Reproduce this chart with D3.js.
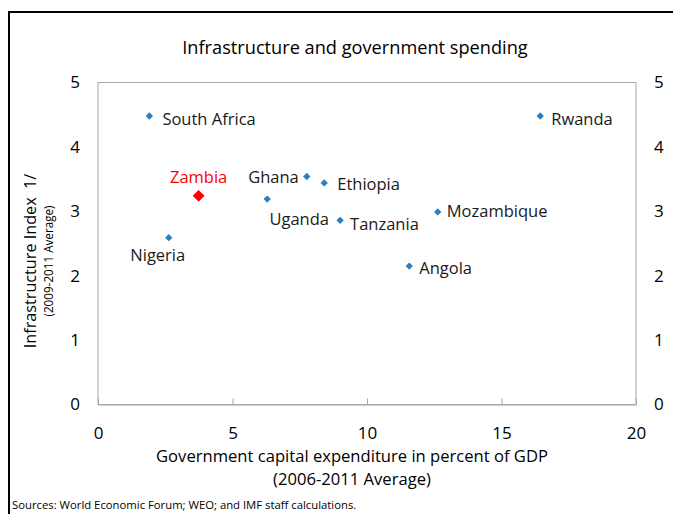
<!DOCTYPE html>
<html>
<head>
<meta charset="utf-8">
<script src="https://cdn.jsdelivr.net/npm/d3@7"></script>
<style>
  html, body { margin: 0; padding: 0; background: #fff; }
  svg { display: block; font-family: "Open Sans", "Noto Sans", sans-serif; }
</style>
</head>
<body>
<svg id="chart" width="673" height="514"></svg>
<script>
// Country observations: capital spending (% of GDP) vs. infrastructure index
const countries = ["South Africa", "Rwanda", "Zambia", "Ghana", "Ethiopia", "Uganda", "Tanzania", "Mozambique", "Angola", "Nigeria"];
const capitalSpending = [1.91, 16.44, 3.74, 7.76, 8.41, 6.29, 9.0, 12.63, 11.57, 2.63];
const infrastructureIndex = [4.48, 4.48, 3.24, 3.54, 3.44, 3.19, 2.86, 2.99, 2.15, 2.59];
const xTicks = [0, 5, 10, 15, 20];
const yTicks = [0, 1, 2, 3, 4, 5];
const highlighted = "Zambia";

// Label placement relative to each marker (dx, dy in px, text anchor)
const labelPlacement = {
  "South Africa": [13, 3, "start"],
  "Rwanda": [11, 3, "start"],
  "Zambia": [0, -19, "middle"],
  "Ghana": [-8, 1, "end"],
  "Ethiopia": [13, 1, "start"],
  "Uganda": [32, 20, "middle"],
  "Tanzania": [10, 4, "start"],
  "Mozambique": [9, -1, "start"],
  "Angola": [10, 2, "start"],
  "Nigeria": [-11, 18, "middle"]
};

const svg = d3.select("#chart");
const plot = { left: 98, right: 636, top: 82.5, bottom: 404.5 };

const x = d3.scaleLinear().domain([0, 20]).range([plot.left, plot.right]);
const y = d3.scaleLinear().domain([0, 5]).range([plot.bottom, plot.top]);
const fmt = d3.format("d");

// outer frame
svg.append("rect")
  .attr("x", 9).attr("y", 12)
  .attr("width", 700).attr("height", 600)
  .attr("fill", "none").attr("stroke", "#000").attr("stroke-width", 2);

// title
svg.append("text")
  .attr("x", 355).attr("y", 54)
  .attr("text-anchor", "middle")
  .attr("font-size", 18.2).attr("fill", "#000")
  .text("Infrastructure and government spending");

// plot border
svg.append("rect")
  .attr("x", plot.left).attr("y", plot.top)
  .attr("width", plot.right - plot.left).attr("height", plot.bottom - plot.top)
  .attr("fill", "none").attr("stroke", "#a6a6a6").attr("stroke-width", 1);

// bottom axis: inward ticks, labels below
const xAxis = svg.append("g")
  .attr("transform", `translate(0,${plot.bottom})`)
  .call(d3.axisBottom(x).tickValues(xTicks).tickFormat(fmt).tickSizeInner(-6).tickSizeOuter(0).tickPadding(22));
xAxis.select(".domain").attr("stroke", "#a6a6a6");
xAxis.selectAll(".tick line").attr("stroke", "#a6a6a6");
xAxis.selectAll(".tick text").attr("font-size", 17).attr("fill", "#000")
  .attr("font-family", "'Open Sans', sans-serif");

// left and right value axes (labels only)
const yLeft = svg.append("g")
  .attr("transform", `translate(${plot.left},0)`)
  .call(d3.axisLeft(y).tickValues(yTicks).tickFormat(fmt).tickSize(0).tickPadding(18));
yLeft.select(".domain").remove();
yLeft.selectAll(".tick text").attr("font-size", 17).attr("fill", "#000")
  .attr("font-family", "'Open Sans', sans-serif");

const yRight = svg.append("g")
  .attr("transform", `translate(${plot.right},0)`)
  .call(d3.axisRight(y).tickValues(yTicks).tickFormat(fmt).tickSize(0).tickPadding(18));
yRight.select(".domain").remove();
yRight.selectAll(".tick text").attr("font-size", 17).attr("fill", "#000")
  .attr("font-family", "'Open Sans', sans-serif");

// axis titles
svg.append("text")
  .attr("x", 352).attr("y", 462)
  .attr("text-anchor", "middle").attr("font-size", 16.6)
  .text("Government capital expenditure in percent of GDP");
svg.append("text")
  .attr("x", 352).attr("y", 485)
  .attr("text-anchor", "middle").attr("font-size", 16.6)
  .text("(2006-2011 Average)");

svg.append("text")
  .attr("transform", "translate(36,261) rotate(-90)")
  .attr("text-anchor", "middle").attr("font-size", 16.2)
  .attr("xml:space", "preserve")
  .style("white-space", "pre")
  .text("Infrastructure Index  1/");
svg.append("text")
  .attr("transform", "translate(53,261) rotate(-90)")
  .attr("text-anchor", "middle").attr("font-size", 11.7)
  .text("(2009-2011 Average)");

// source note
svg.append("text")
  .attr("x", 12).attr("y", 509)
  .attr("font-size", 11.3)
  .text("Sources: World Economic Forum; WEO; and IMF staff calculations.");

// markers and labels
const data = countries.map((name, i) => ({
  name, xv: capitalSpending[i], yv: infrastructureIndex[i]
}));

const diamond = d3.symbol().type(d3.symbolDiamond2);

svg.append("g").selectAll("path")
  .data(data)
  .join("path")
  .attr("transform", d => `translate(${x(d.xv)},${y(d.yv)})`)
  .attr("d", d => diamond.size(d.name === highlighted ? 90 : 34)())
  .attr("fill", d => d.name === highlighted ? "#ff0000" : "#2a7fc2");

svg.append("g").selectAll("text")
  .data(data)
  .join("text")
  .attr("x", d => x(d.xv) + labelPlacement[d.name][0])
  .attr("y", d => y(d.yv) + labelPlacement[d.name][1])
  .attr("dy", "0.35em")
  .attr("text-anchor", d => labelPlacement[d.name][2])
  .attr("font-size", 16.5)
  .attr("fill", d => d.name === highlighted ? "#ff0000" : "#1a1a1a")
  .text(d => d.name);
</script>
</body>
</html>
